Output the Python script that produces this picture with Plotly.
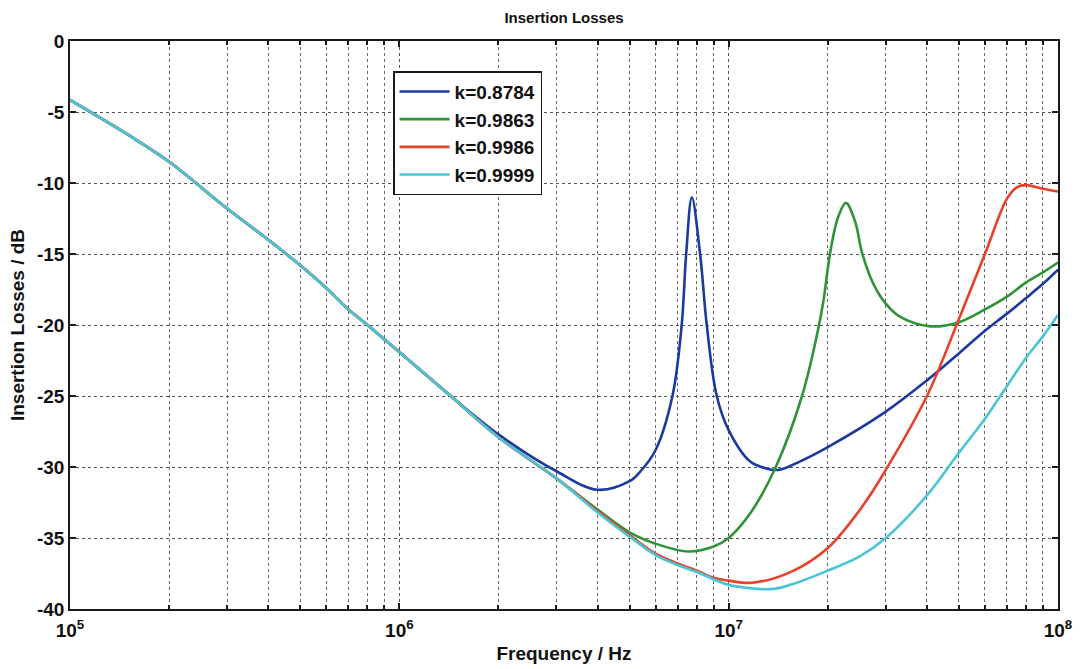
import plotly.graph_objects as go

# Insertion loss (dB) versus frequency (Hz) for four coupling factors k
series_names = ["k=0.8784", "k=0.9863", "k=0.9986", "k=0.9999"]
series_colors = ["#1c3a9e", "#2f9436", "#e8412a", "#4ac4d6"]

freq_k8784 = [1e5, 1.5e5, 2e5, 3e5, 4e5, 5e5, 6e5, 7e5, 8e5, 1e6, 1.4e6, 2e6, 3e6,
              4e6, 5e6, 5.4e6, 6e6, 6.75e6, 7.2e6, 7.43e6, 7.73e6, 8.19e6, 8.58e6,
              9.2e6, 1e7, 1.16e7, 1.3e7, 1.42e7, 1.65e7, 2e7, 3e7, 4e7, 5e7, 6e7, 7e7,
              8e7, 9e7, 1e8]
il_k8784 = [-4.15, -6.6, -8.5, -11.8, -14.0, -15.8, -17.4, -18.9, -20.0, -21.9, -24.8,
            -27.7, -30.3, -31.6, -31.0, -30.3, -28.8, -25.0, -20.0, -15.0, -11.0, -15.0,
            -20.0, -25.0, -27.4, -29.6, -30.1, -30.2, -29.6, -28.6, -26.1, -23.9, -22.0,
            -20.4, -19.2, -18.1, -17.1, -16.1]

freq_k9863 = [1e5, 1.5e5, 2e5, 3e5, 4e5, 5e5, 6e5, 7e5, 8e5, 1e6, 1.4e6, 2e6, 3e6,
              4e6, 5e6, 6e6, 7.55e6, 9e6, 1e7, 1.16e7, 1.39e7, 1.67e7, 1.85e7, 1.94e7,
              2.03e7, 2.15e7, 2.27e7, 2.42e7, 2.54e7, 2.75e7, 3e7, 3.3e7, 4.1e7, 5e7,
              6e7, 7e7, 8e7, 9e7, 1e8]
il_k9863 = [-4.15, -6.6, -8.5, -11.8, -14.0, -15.8, -17.4, -18.9, -20.0, -21.9, -24.8,
            -27.9, -30.8, -33.0, -34.6, -35.4, -35.95, -35.6, -35.0, -33.3, -30.0, -25.0,
            -20.8, -18.3, -15.0, -12.4, -11.4, -12.7, -14.9, -17.1, -18.5, -19.4, -20.1,
            -19.8, -18.9, -18.0, -17.0, -16.3, -15.6]

freq_k9986 = [1e5, 1.5e5, 2e5, 3e5, 4e5, 5e5, 6e5, 7e5, 8e5, 1e6, 1.4e6, 2e6, 3e6,
              4e6, 5e6, 6e6, 7e6, 8e6, 9e6, 1e7, 1.18e7, 1.54e7, 2e7, 2.56e7, 3e7,
              4e7, 5e7, 6e7, 7e7, 7.5e7, 8e7, 9e7, 1e8]
il_k9986 = [-4.15, -6.6, -8.5, -11.8, -14.0, -15.8, -17.4, -18.9, -20.0, -21.9, -24.8,
            -27.9, -30.8, -33.1, -34.8, -36.1, -36.8, -37.3, -37.8, -38.0, -38.15, -37.4,
            -35.7, -32.7, -30.2, -25.0, -19.6, -15.0, -11.1, -10.3, -10.15, -10.4, -10.6]

freq_k9999 = [1e5, 1.5e5, 2e5, 3e5, 4e5, 5e5, 6e5, 7e5, 8e5, 1e6, 1.4e6, 2e6, 3e6,
              4e6, 5e6, 6e6, 7e6, 8e6, 9e6, 1e7, 1.34e7, 1.54e7, 2e7, 2.5e7, 3e7, 4e7,
              5e7, 6e7, 7e7, 8e7, 9e7, 1e8]
il_k9999 = [-4.15, -6.6, -8.5, -11.8, -14.0, -15.8, -17.4, -18.9, -20.0, -21.9, -24.8,
            -27.9, -30.8, -33.2, -34.9, -36.2, -36.9, -37.4, -37.9, -38.3, -38.6, -38.3,
            -37.3, -36.3, -35.0, -32.0, -29.0, -26.6, -24.3, -22.3, -20.8, -19.3]

x_major = [1e5, 1e6, 1e7, 1e8]
x_major_text = ["10<sup>5</sup>", "10<sup>6</sup>", "10<sup>7</sup>", "10<sup>8</sup>"]
x_minor = [m * d for d in (1e5, 1e6, 1e7) for m in range(2, 10)]
y_ticks = [0, -5, -10, -15, -20, -25, -30, -35, -40]
y_tick_text = ["0", "-5", "-10", "-15", "-20", "-25", "-30", "-35", "-40"]

FONT = "Liberation Sans, Arial, Helvetica, sans-serif"
INK = "#111111"

fig = go.Figure()
all_series = [
    (freq_k8784, il_k8784),
    (freq_k9863, il_k9863),
    (freq_k9986, il_k9986),
    (freq_k9999, il_k9999),
]
for i, (fx, fy) in enumerate(all_series):
    fig.add_trace(go.Scatter(
        x=fx, y=fy, mode="lines", name=series_names[i],
        legendgroup=series_names[i],
        line=dict(color=series_colors[i], width=2.6, shape="spline", smoothing=1.0),
    ))

axis_common = dict(
    showline=True, linecolor="#1a1a1a", linewidth=1.5, mirror="allticks",
    ticks="inside", ticklen=6, tickwidth=1.5, tickcolor="#1a1a1a",
    showgrid=True, gridcolor="#555555", griddash="dot", gridwidth=1,
    zeroline=False,
    tickfont=dict(family=FONT, size=19, color=INK, weight="bold"),
)

fig.update_layout(
    width=1082, height=669,
    template="none",
    paper_bgcolor="white", plot_bgcolor="white",
    margin=dict(l=70, r=24, t=41, b=60),
    title=dict(text="Insertion Losses", x=0.5213, xanchor="center", y=0.973, yanchor="middle",
               font=dict(family=FONT, size=15, color=INK, weight="bold")),
    xaxis=dict(
        type="log", range=[5, 8],
        tickmode="array", tickvals=x_major, ticktext=x_major_text,
        ticklabelstandoff=3,
        minor=dict(tickvals=x_minor, ticks="inside", ticklen=4, tickcolor="#1a1a1a",
                   showgrid=True, gridcolor="#666666", griddash="dot", gridwidth=1),
        title=dict(text="Frequency / Hz", standoff=7,
                   font=dict(family=FONT, size=19, color=INK, weight="bold")),
        **axis_common,
    ),
    yaxis=dict(
        range=[-40, 0],
        tickmode="array", tickvals=y_ticks, ticktext=y_tick_text,
        title=dict(text="Insertion Losses / dB", standoff=7,
                   font=dict(family=FONT, size=19, color=INK, weight="bold")),
        **axis_common,
    ),
    showlegend=True,
    legend=dict(
        x=0.327, y=0.947, xanchor="left", yanchor="top",
        bgcolor="white", bordercolor="#1a1a1a", borderwidth=1.5,
        font=dict(family=FONT, size=19, color=INK, weight="bold"),
        traceorder="grouped", tracegroupgap=0, itemwidth=50,
    ),
)

fig.write_html("out.html")
